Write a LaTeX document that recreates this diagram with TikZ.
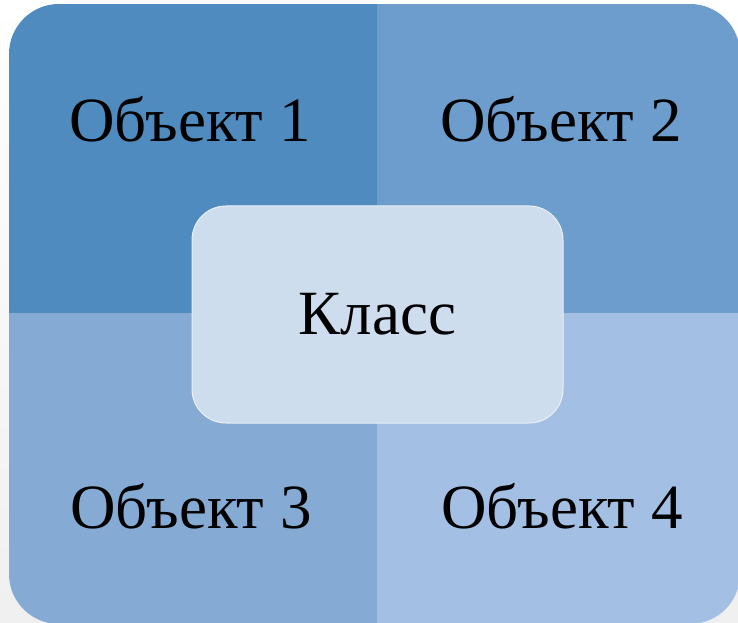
\documentclass[tikz,border=0pt]{standalone}
\usepackage{fontspec}
\setmainfont{Liberation Serif}
\definecolor{kvA}{HTML}{508BBF}
\definecolor{kvB}{HTML}{6C9DCC}
\definecolor{kvC}{HTML}{85AAD4}
\definecolor{kvD}{HTML}{A3BFE3}
\definecolor{kvE}{HTML}{CEDDEE}
\begin{document}
\begin{tikzpicture}[x=1pt,y=1pt,font=\fontsize{63}{75}\selectfont]
	\useasboundingbox (0,0) rectangle (738,622);
	\shade[top color=white,bottom color=gray!12] (0,0) rectangle (738,622);
	\begin{scope}
		\clip[rounded corners=50pt] (9,-2) rectangle (740,618);
		\foreach \xa/\ya/\xb/\yb/\c in {
			9/309/377/618/kvA,
			377/309/740/618/kvB,
			9/-2/377/309/kvC,
			377/-2/740/309/kvD}
		\fill[fill=\c] (\xa,\ya) rectangle (\xb,\yb);
	\end{scope}
	\foreach \n/\x/\y in {1/190/480,2/561/480,3/191/94,4/562/94}{
		\node[anchor=base,inner sep=0pt] (obj\n) at (\x,\y) {Объект \n};
	}
	\node[fill=kvE,draw=white!55!kvE,line width=1pt,rounded corners=34pt,
		minimum width=371pt,minimum height=217pt] (klass) at (377.5,307.5) {Класс};
\end{tikzpicture}
\end{document}
